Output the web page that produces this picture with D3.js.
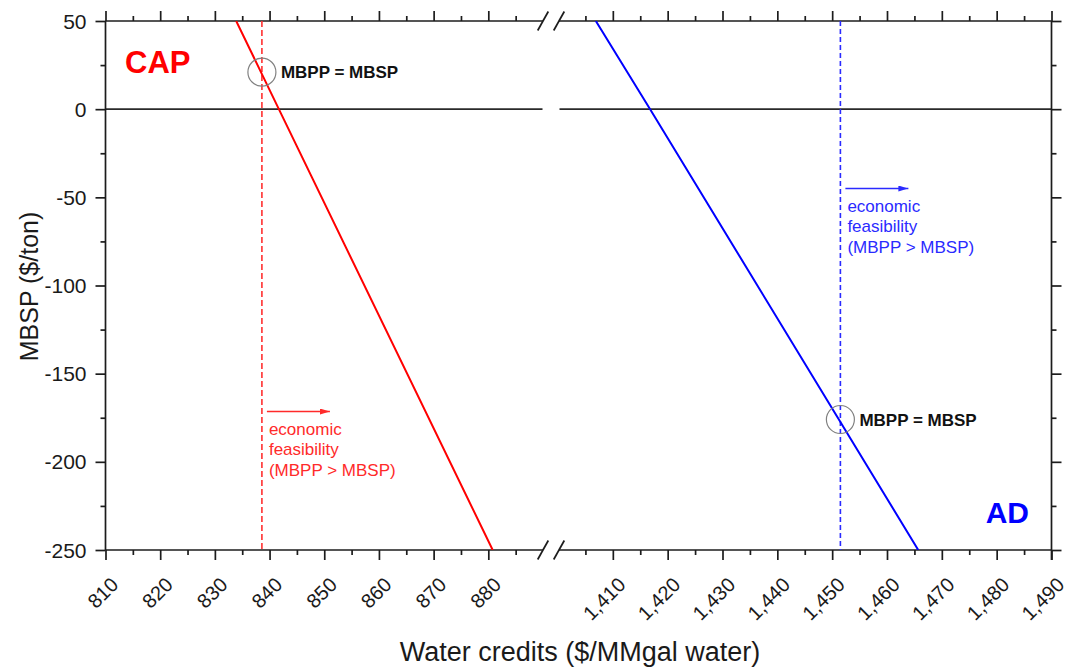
<!DOCTYPE html>
<html>
<head>
<meta charset="utf-8">
<script src="https://cdn.jsdelivr.net/npm/d3@7"></script>
<style>
  html, body { margin: 0; padding: 0; background: #fff; }
  svg { display: block; font-family: "Liberation Sans", Arial, sans-serif; }
</style>
</head>
<body>
<svg id="chart" width="1069" height="667"></svg>
<script>
// MBSP vs. water credit price, CAP and AD cases (broken x axis)
const capCredits = [833.9, 841.7, 880.8];
const capMBSP = [50, 0, -250];
const adCredits = [1406.9, 1416.8, 1465.7];
const adMBSP = [50, 0, -250];

// break-even water credit (MBPP = MBSP)
const capBreakEven = [838.6, 21];
const adBreakEven = [1451.5, -176];

const yTicks = [50, 0, -50, -100, -150, -200, -250];
const yMinor = [25, -25, -75, -125, -175, -225];
const xTicksLeft = [810, 820, 830, 840, 850, 860, 870, 880];
const xMinorLeft = [815, 825, 835, 845, 855, 865, 875, 885];
const xTicksRight = [1410, 1420, 1430, 1440, 1450, 1460, 1470, 1480, 1490];
const xMinorRight = [1405, 1415, 1425, 1435, 1445, 1455, 1465, 1475, 1485];

const svg = d3.select("#chart");
const pLeft = 105.5, pRight = 1051.5, pTop = 21, pBottom = 550;
const breakL = 543, breakR = 558;

const xL = d3.scaleLinear().domain([810, 890]).range([pLeft, breakL]);
const xR = d3.scaleLinear().domain([1400, 1490]).range([breakR, pRight]);
const y = d3.scaleLinear().domain([-250, 50]).range([pBottom, pTop]);

const axisColor = "#1c1c1c";
const axisW = 1.7;
const fmt = d3.format(",");

// clip regions for the two segments
const defs = svg.append("defs");
defs.append("clipPath").attr("id", "clipL").append("rect")
  .attr("x", pLeft).attr("y", pTop).attr("width", breakL - pLeft).attr("height", pBottom - pTop);
defs.append("clipPath").attr("id", "clipR").append("rect")
  .attr("x", breakR).attr("y", pTop).attr("width", pRight - breakR).attr("height", pBottom - pTop);
function arrowMarker(id, color) {
  defs.append("marker").attr("id", id)
    .attr("viewBox", "0 0 10 6").attr("refX", 10).attr("refY", 3)
    .attr("markerWidth", 10).attr("markerHeight", 6).attr("markerUnits", "userSpaceOnUse")
    .attr("orient", "auto")
    .append("path").attr("d", "M0,0 L10,3 L0,6 Z").attr("fill", color);
}
arrowMarker("arrRed", "#ff2a2a");
arrowMarker("arrBlue", "#2a2aff");

// zero reference line
[[pLeft, breakL - 0.5], [breakR + 1.5, pRight]].forEach(([a, b]) => {
  svg.append("line").attr("x1", a).attr("x2", b)
    .attr("y1", y(0)).attr("y2", y(0))
    .attr("stroke", "#2a2a2a").attr("stroke-width", 1.6);
});

// bottom axis (ticks outward) and top axis (ticks inward)
function xAxisSeg(scale, majors, minors, yPos, dir, labels) {
  const g = svg.append("g").attr("transform", `translate(0,${yPos})`)
    .call(d3.axisBottom(scale).tickValues(majors).tickSizeInner(10 * dir).tickSizeOuter(0).tickFormat(""));
  const gm = svg.append("g").attr("transform", `translate(0,${yPos})`)
    .call(d3.axisBottom(scale).tickValues(minors).tickSizeInner(5 * dir).tickSizeOuter(0).tickFormat(""));
  [g, gm].forEach(s => {
    s.select(".domain").remove();
    s.selectAll("line").attr("stroke", axisColor).attr("stroke-width", axisW);
  });
  if (labels) {
    svg.append("g").selectAll("text").data(majors).join("text")
      .attr("transform", d => `translate(${scale(d) + 14},${yPos + 36}) rotate(-45)`)
      .attr("text-anchor", "end")
      .attr("font-size", 20).attr("fill", "#1a1a1a")
      .text(d => fmt(d));
  }
}
xAxisSeg(xL, xTicksLeft, xMinorLeft, pBottom, 1, true);
xAxisSeg(xR, xTicksRight, xMinorRight, pBottom, 1, true);
xAxisSeg(xL, xTicksLeft, xMinorLeft, pTop, -1, false);
xAxisSeg(xR, xTicksRight, xMinorRight, pTop, -1, false);

// axis lines with break marks
[pTop, pBottom].forEach(yy => {
  svg.append("line").attr("x1", pLeft).attr("x2", breakL).attr("y1", yy).attr("y2", yy)
    .attr("stroke", axisColor).attr("stroke-width", axisW);
  svg.append("line").attr("x1", breakR + 1).attr("x2", pRight).attr("y1", yy).attr("y2", yy)
    .attr("stroke", axisColor).attr("stroke-width", axisW);
  [breakL, breakR + 1].forEach(cx => {
    svg.append("line").attr("x1", cx - 5.3).attr("x2", cx + 5.3)
      .attr("y1", yy + 9.5).attr("y2", yy - 9.5)
      .attr("stroke", axisColor).attr("stroke-width", axisW);
  });
});

// left axis (ticks outward) and right axis (ticks inward)
function yAxisSide(xPos, dir, labels) {
  const g = svg.append("g").attr("transform", `translate(${xPos},0)`)
    .call(d3.axisLeft(y).tickValues(yTicks).tickSizeInner(10 * dir).tickSizeOuter(0).tickFormat(""));
  const gm = svg.append("g").attr("transform", `translate(${xPos},0)`)
    .call(d3.axisLeft(y).tickValues(yMinor).tickSizeInner(5 * dir).tickSizeOuter(0).tickFormat(""));
  [g, gm].forEach(s => {
    s.select(".domain").remove();
    s.selectAll("line").attr("stroke", axisColor).attr("stroke-width", axisW);
  });
  svg.append("line").attr("x1", xPos).attr("x2", xPos)
    .attr("y1", pTop).attr("y2", pBottom + (dir < 0 ? 10 : 0))
    .attr("stroke", axisColor).attr("stroke-width", axisW);
  if (labels) {
    svg.append("g").selectAll("text").data(yTicks).join("text")
      .attr("x", xPos - 19).attr("y", d => y(d)).attr("dy", "0.36em")
      .attr("text-anchor", "end").attr("font-size", 21).attr("fill", "#1a1a1a")
      .text(d => d);
  }
}
yAxisSide(pLeft, 1, true);
yAxisSide(pRight, -1, false);

// break-even vertical dashed lines
svg.append("line").attr("x1", xL(capBreakEven[0])).attr("x2", xL(capBreakEven[0]))
  .attr("y1", pTop).attr("y2", pBottom)
  .attr("stroke", "#ff3030").attr("stroke-width", 1.6).attr("stroke-dasharray", "6,3");
svg.append("line").attr("x1", xR(adBreakEven[0])).attr("x2", xR(adBreakEven[0]))
  .attr("y1", pTop).attr("y2", pBottom)
  .attr("stroke", "#2a2aff").attr("stroke-width", 1.6).attr("stroke-dasharray", "5,3");

// MBSP lines
const capLine = d3.line().x(d => xL(d[0])).y(d => y(d[1]));
const adLine = d3.line().x(d => xR(d[0])).y(d => y(d[1]));
svg.append("path").datum(d3.zip(capCredits, capMBSP))
  .attr("clip-path", "url(#clipL)")
  .attr("d", capLine).attr("fill", "none").attr("stroke", "#ff0000").attr("stroke-width", 2);
svg.append("path").datum(d3.zip(adCredits, adMBSP))
  .attr("clip-path", "url(#clipR)")
  .attr("d", adLine).attr("fill", "none").attr("stroke", "#0000ff").attr("stroke-width", 2);

// break-even markers
function breakEven(scale, pt) {
  const cx = scale(pt[0]), cy = y(pt[1]);
  svg.append("circle").attr("cx", cx).attr("cy", cy).attr("r", 14)
    .attr("fill", "none").attr("stroke", "#808080").attr("stroke-width", 1.2);
  svg.append("text").attr("x", cx + 19).attr("y", cy + 6)
    .attr("font-size", 17).attr("font-weight", "bold").attr("fill", "#111")
    .text("MBPP = MBSP");
}
breakEven(xL, capBreakEven);
breakEven(xR, adBreakEven);

// feasibility annotations
function feasibility(scale, credit, yArrow, color, marker) {
  const x0 = scale(credit) + 5;
  svg.append("line").attr("x1", x0).attr("x2", x0 + 63)
    .attr("y1", yArrow).attr("y2", yArrow)
    .attr("stroke", color).attr("stroke-width", 1.3).attr("marker-end", `url(#${marker})`);
  const lines = ["economic", "feasibility", "(MBPP > MBSP)"];
  svg.append("g").selectAll("text").data(lines).join("text")
    .attr("x", x0 + 2).attr("y", (d, i) => yArrow + 23 + i * 20.7)
    .attr("font-size", 17).attr("fill", color).text(d => d);
}
feasibility(xL, capBreakEven[0], 411.5, "#ff2a2a", "arrRed");
feasibility(xR, adBreakEven[0], 188.5, "#2a2aff", "arrBlue");

// case labels
svg.append("text").attr("x", 125).attr("y", 73)
  .attr("font-size", 31).attr("font-weight", "bold").attr("fill", "#ff0000").text("CAP");
svg.append("text").attr("x", 1029).attr("y", 523).attr("text-anchor", "end")
  .attr("font-size", 30).attr("font-weight", "bold").attr("fill", "#0000ff").text("AD");

// axis titles
svg.append("text").attr("transform", `translate(38,${(pTop + pBottom) / 2 + 1}) rotate(-90)`)
  .attr("text-anchor", "middle").attr("font-size", 25).attr("fill", "#1a1a1a")
  .text("MBSP ($/ton)");
svg.append("text").attr("x", 580).attr("y", 661)
  .attr("text-anchor", "middle").attr("font-size", 27).attr("fill", "#1a1a1a")
  .text("Water credits ($/MMgal water)");
</script>
</body>
</html>
